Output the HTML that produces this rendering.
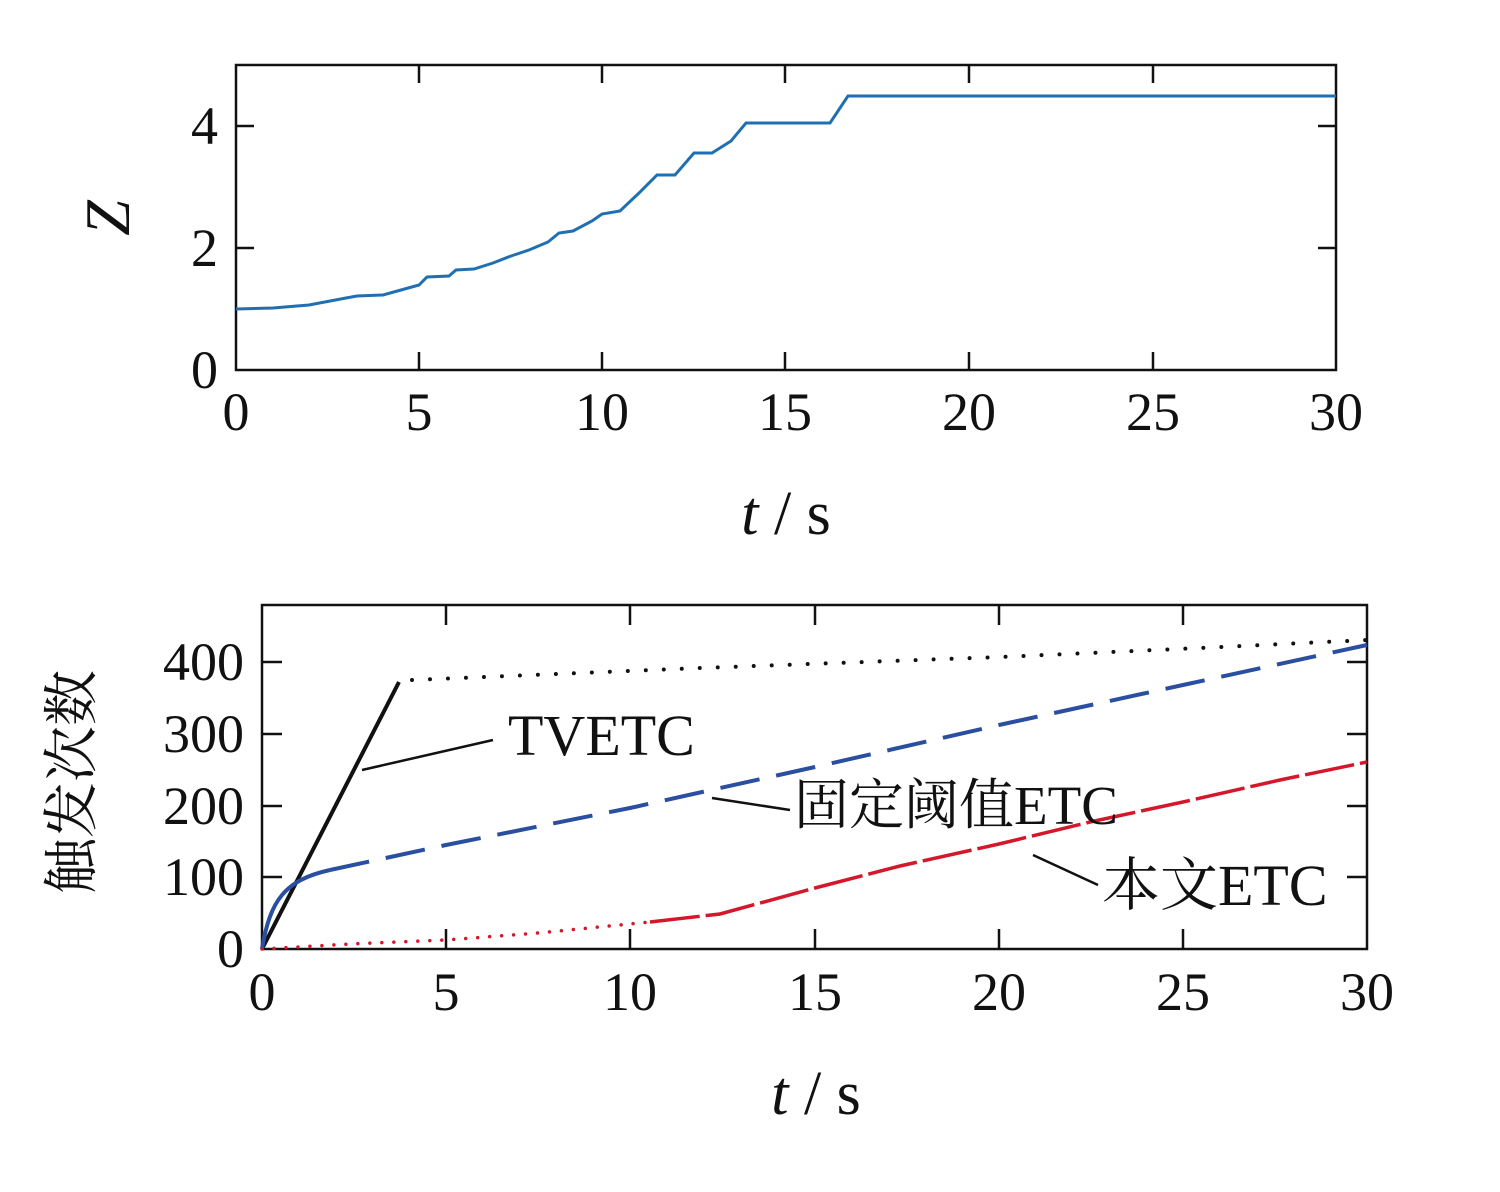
<!DOCTYPE html>
<html><head><meta charset="utf-8"><style>
html,body{margin:0;padding:0;background:#fff}
svg text{font-family:"Liberation Serif","Noto Serif CJK SC",serif;fill:#111}
</style></head><body>
<svg width="1500" height="1187" viewBox="0 0 1500 1187" xmlns="http://www.w3.org/2000/svg">
<!-- Top plot -->
<rect x="236" y="65" width="1100" height="305" fill="none" stroke="#111" stroke-width="2.5"/>
<g stroke="#111" stroke-width="2.5">
<path d="M419 370v-18M602 370v-18M785 370v-18M969 370v-18M1153 370v-18M419 65v18M602 65v18M785 65v18M969 65v18M1153 65v18"/>
<path d="M236 248h18M236 126h18M1336 248h-18M1336 126h-18"/>
</g>
<g font-size="54" text-anchor="middle">
<text x="236" y="430">0</text><text x="419" y="430">5</text><text x="602" y="430">10</text><text x="785" y="430">15</text><text x="969" y="430">20</text><text x="1153" y="430">25</text><text x="1336" y="430">30</text>
</g>
<g font-size="54" text-anchor="end">
<text x="218" y="388">0</text><text x="218" y="266">2</text><text x="218" y="144">4</text>
</g>
<text x="110" y="237" font-size="64" font-style="italic" text-anchor="middle" transform="rotate(-90 110 218)">Z</text>
<text x="786" y="534" font-size="62" text-anchor="middle"><tspan font-style="italic">t</tspan> / s</text>
<polyline fill="none" stroke="#1f6fb2" stroke-width="3" points="236,309 273,308 309,305 346,298 357,296 383,295 401,290 419,285 427,277 449,276 456,270 474,269 493,263 511,256 529,250 548,242 559,233 573,231 592,221 602,214 620,211 639,193 657,175 675,175 694,153 712,153 731,141 746,123 830,123 848,96 1336,96"/>
<!-- Bottom plot -->
<rect x="262" y="605" width="1105" height="344" fill="none" stroke="#111" stroke-width="2.5"/>
<g stroke="#111" stroke-width="2.5">
<path d="M446 949v-20M630 949v-20M815 949v-20M999 949v-20M1183 949v-20M446 605v20M630 605v20M815 605v20M999 605v20M1183 605v20"/>
<path d="M262 877h20M262 806h20M262 734h20M262 662h20M1367 877h-20M1367 806h-20M1367 734h-20M1367 662h-20"/>
</g>
<g font-size="54" text-anchor="middle">
<text x="262" y="1010">0</text><text x="446" y="1010">5</text><text x="630" y="1010">10</text><text x="815" y="1010">15</text><text x="999" y="1010">20</text><text x="1183" y="1010">25</text><text x="1367" y="1010">30</text>
</g>
<g font-size="54" text-anchor="end">
<text x="244" y="967">0</text><text x="244" y="895">100</text><text x="244" y="824">200</text><text x="244" y="752">300</text><text x="244" y="680">400</text>
</g>
<text x="78" y="782" font-size="56" text-anchor="middle" dominant-baseline="middle" transform="rotate(-90 78 782)">触发次数</text>
<text x="816" y="1114" font-size="62" text-anchor="middle"><tspan font-style="italic">t</tspan> / s</text>
<!-- TVETC -->
<line x1="262" y1="949" x2="399" y2="682" stroke="#111" stroke-width="4"/>
<polyline fill="none" stroke="#111" stroke-width="4" stroke-linecap="round" stroke-dasharray="0 18" points="412,680 700,668 1000,657 1200,648 1367,640"/>
<!-- Fixed threshold -->
<path d="M262 949 C270 900 285 880 330 870" fill="none" stroke="#2a4fa0" stroke-width="4"/>
<polyline fill="none" stroke="#2a4fa0" stroke-width="4" stroke-dasharray="40 17" points="330,870 446,845 630,808 815,767 999,725 1183,685 1367,645"/>
<!-- Ours -->
<polyline fill="none" stroke="#d4172a" stroke-width="3.5" stroke-linecap="round" stroke-dasharray="0 12" points="262,949 350,944 446,940 538,933 650,922"/>
<polyline fill="none" stroke="#d4172a" stroke-width="3.5" stroke-dasharray="50 6" points="650,922 720,914 815,888 900,866 999,844 1090,822 1183,802 1280,780 1367,762"/>
<!-- Labels -->
<g stroke="#111" stroke-width="2.5">
<line x1="362" y1="770" x2="493" y2="740"/>
<line x1="712" y1="798" x2="790" y2="810"/>
<line x1="1033" y1="855" x2="1098" y2="885"/>
</g>
<text x="508" y="755" font-size="58">TVETC</text>
<text x="794" y="824" font-size="55">固定阈值ETC</text>
<text x="1102" y="905" font-size="58">本文ETC</text>
</svg>
</body></html>
